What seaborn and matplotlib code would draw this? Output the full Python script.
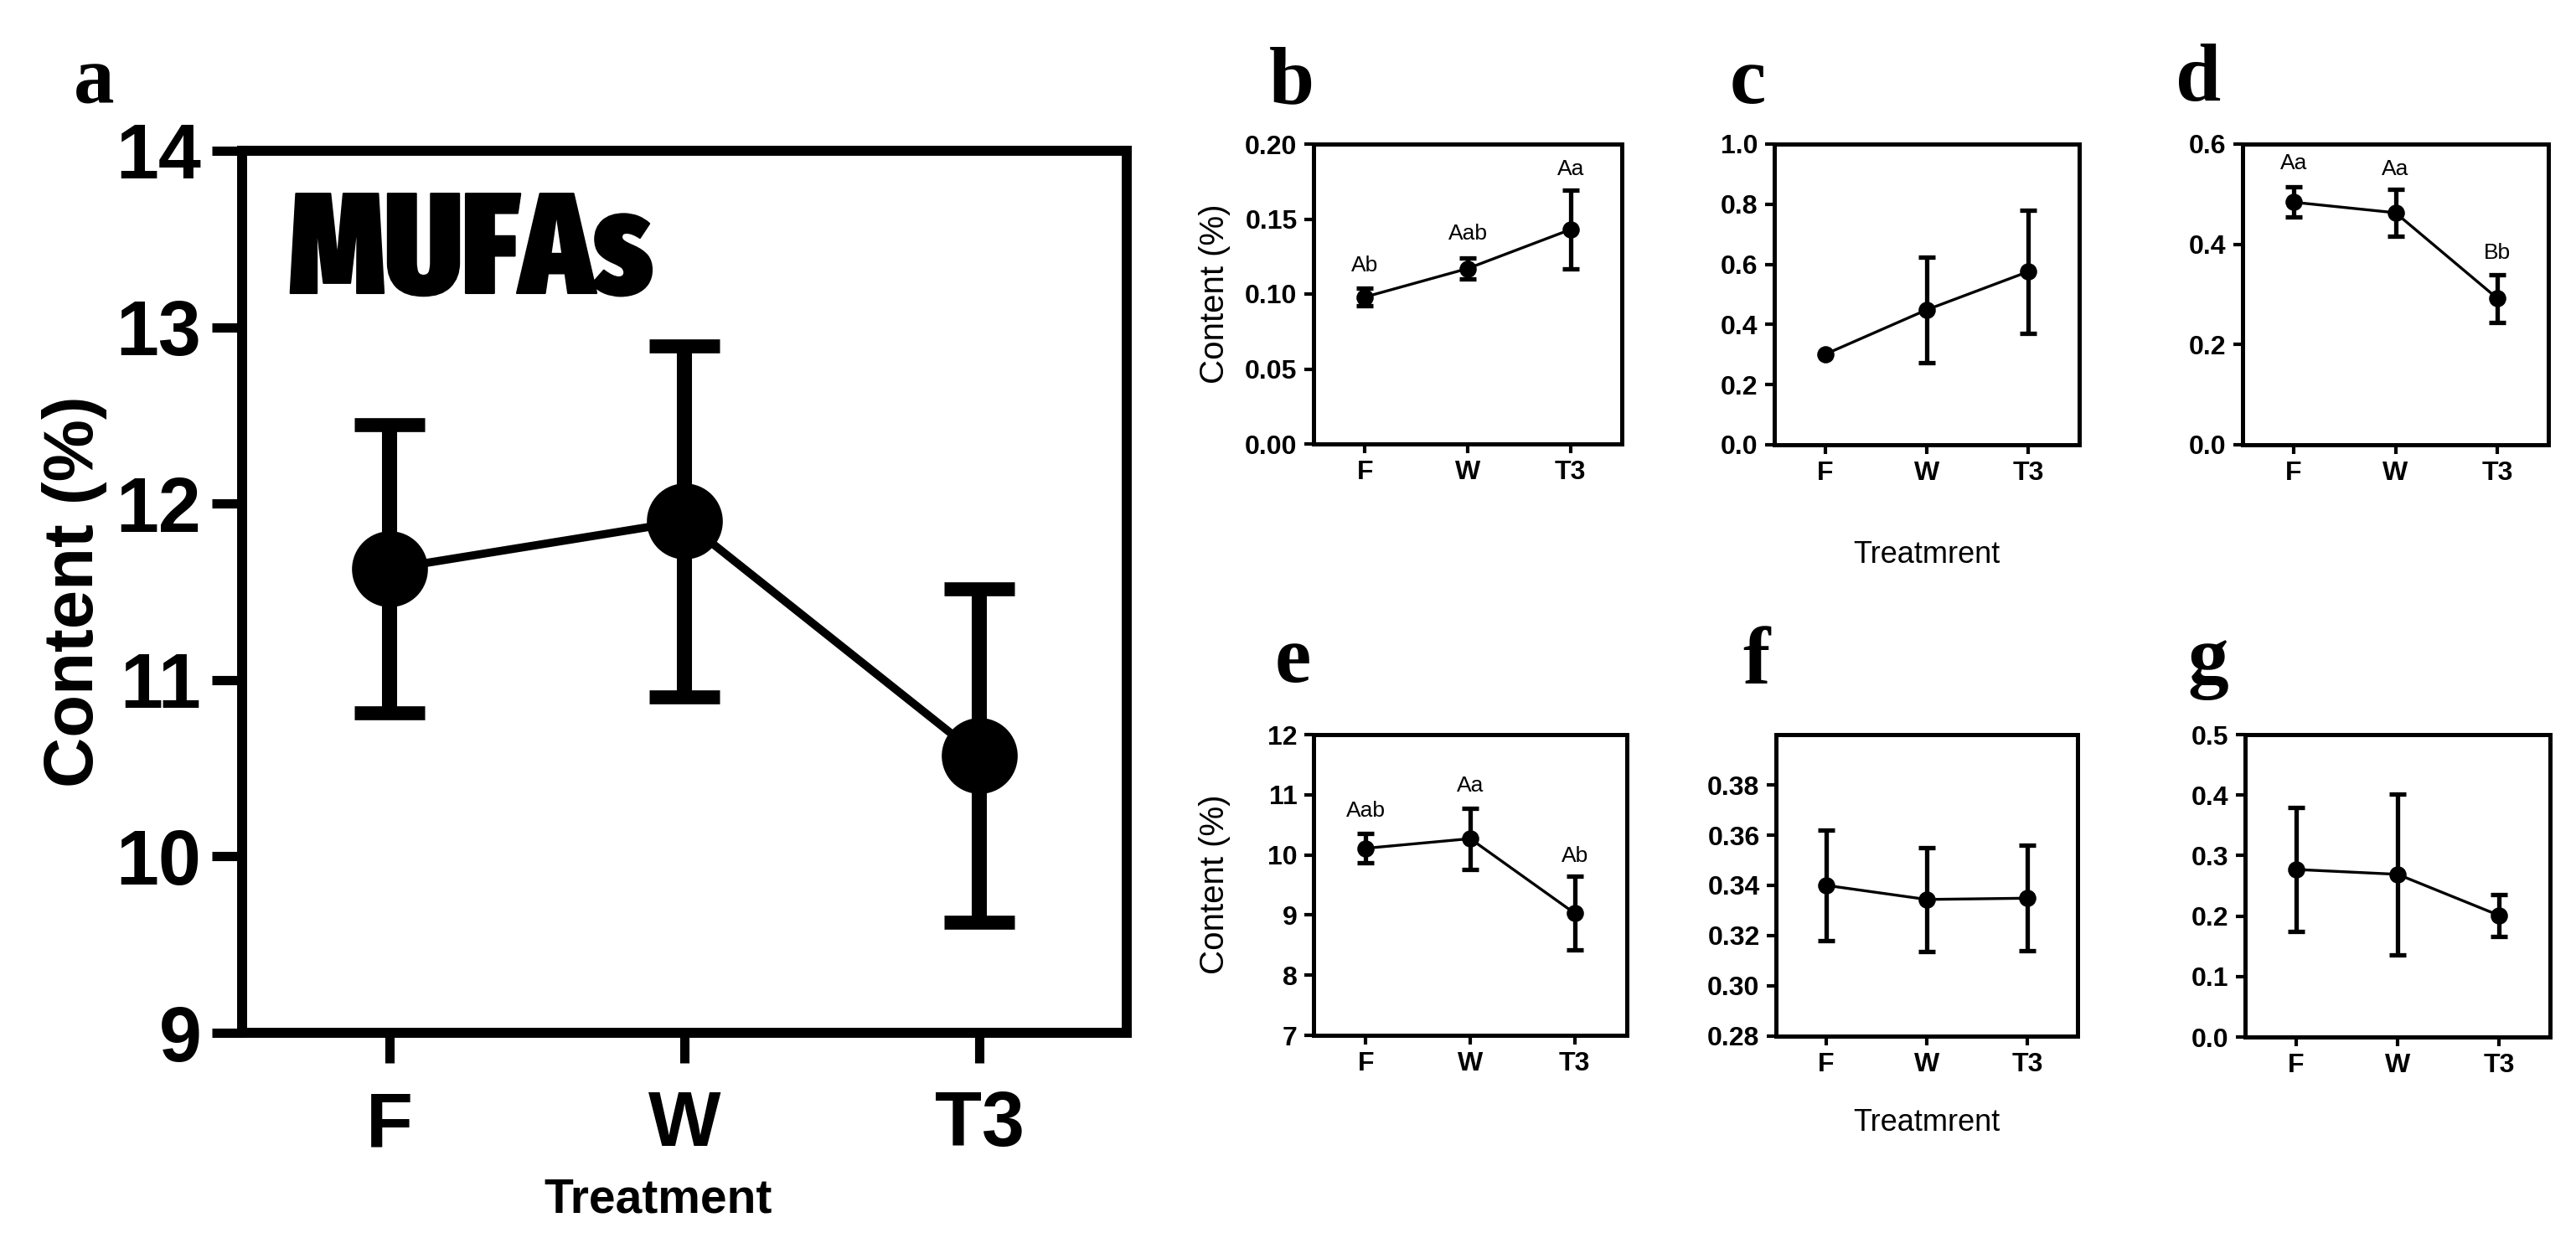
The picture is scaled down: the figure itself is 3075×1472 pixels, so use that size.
import numpy as np
import pandas as pd
import matplotlib
matplotlib.use("Agg")
import matplotlib.pyplot as plt
import matplotlib.patheffects as pe
from matplotlib import font_manager
from matplotlib.font_manager import FontProperties
import seaborn as sns

# %%
# values (mean and SD per treatment)
treat = ["F", "W", "T3"]

a_mean = [11.63, 11.90, 10.57]
a_sd = [0.815, 0.995, 0.945]

b_mean = [0.098, 0.117, 0.143]
b_sd = [0.006, 0.007, 0.026]
b_lab = ["Ab", "Aab", "Aa"]
b_lab_y = [0.119, 0.140, 0.183]

c_mean = [0.301, 0.449, 0.576]
c_sd = [0.0, 0.175, 0.205]

d_mean = [0.484, 0.463, 0.292]
d_sd = [0.030, 0.047, 0.048]
d_lab = ["Aa", "Aa", "Bb"]
d_lab_y = [0.561, 0.550, 0.383]

e_mean = [10.11, 10.27, 9.03]
e_sd = [0.245, 0.51, 0.615]
e_lab = ["Aab", "Aa", "Ab"]
e_lab_y = [10.73, 11.15, 9.98]

f_mean = [0.340, 0.3344, 0.3349]
f_sd = [0.022, 0.0206, 0.021]

g_mean = [0.277, 0.269, 0.201]
g_sd = [0.1025, 0.133, 0.035]

# %%
sns.set_style("ticks")
plt.rcParams["font.family"] = ["Liberation Sans", "DejaVu Sans"]
plt.rcParams.update({"text.color": "k", "axes.edgecolor": "k",
                     "axes.labelcolor": "k", "xtick.color": "k",
                     "ytick.color": "k"})

# a heavy condensed face for the "MUFAs" title, if one is installed
names = {f.name for f in font_manager.fontManager.ttflist}
files = [f.fname for f in font_manager.fontManager.ttflist]
mufa_prop, mufa_size, mufa_stroke = None, 100, 7
for key in ["ExtraCondensedBlack", "SemiCondensedBlack", "CondensedBlack",
            "ExtraCondensedExtraBold", "CondensedExtraBold"]:
    hit = [p for p in files if key in p.replace("-", "").replace("_", "")
           and "Italic" not in p and "Sans" in p and "Mono" not in p]
    if hit:
        mufa_prop = FontProperties(fname=sorted(hit)[0])
        mufa_size, mufa_stroke = 123, 1.5
        break
if mufa_prop is None:
    if "Liberation Sans Narrow" in names:
        mufa_prop = FontProperties(family="Liberation Sans Narrow", weight="bold")
    else:
        mufa_prop = FontProperties(family="DejaVu Sans", stretch="condensed",
                                   weight="bold")

W, H = 3075, 1472
fig = plt.figure(figsize=(W / 100, H / 100), dpi=100)


def box(l, t, r, b):
    return [l / W, 1 - b / H, (r - l) / W, (b - t) / H]


def draw(ax, mean, sd, big=False):
    df = pd.DataFrame({"treat": treat, "mean": mean, "sd": sd})
    x = np.arange(len(df))
    keep = df["sd"] > 0
    if big:
        ax.errorbar(x[keep], df["mean"][keep], yerr=df["sd"][keep], fmt="none",
                    ecolor="k", elinewidth=13, capsize=30, capthick=12, zorder=2)
        sns.pointplot(data=df, x="treat", y="mean", color="k", markers="o",
                      errorbar=None, markersize=60, linewidth=7, ax=ax, zorder=3)
    else:
        ax.errorbar(x[keep], df["mean"][keep], yerr=df["sd"][keep], fmt="none",
                    ecolor="k", elinewidth=3.8, capsize=7.5, capthick=3.8, zorder=2)
        sns.pointplot(data=df, x="treat", y="mean", color="k", markers="o",
                      errorbar=None, markersize=13, linewidth=2.4, ax=ax, zorder=3)
    ax.set_xlim(-0.5, 2.5)
    ax.set_xlabel("")
    ax.set_ylabel("")


def style_small(ax, lim, ticks, fmt):
    ax.set_ylim(*lim)
    ax.set_yticks(ticks)
    ax.set_yticklabels([fmt % t for t in ticks])
    for s in ax.spines.values():
        s.set_visible(True)
        s.set_linewidth(3.6)
        s.set_color("k")
    ax.tick_params(width=3, length=8, labelsize=23, pad=6, colors="k")
    plt.setp(ax.get_xticklabels() + ax.get_yticklabels(), fontweight="bold")


# %%
# panel a
axa = fig.add_axes(box(289, 180, 1345, 1233))
draw(axa, a_mean, a_sd, big=True)
axa.set_ylim(9, 14)
axa.set_yticks(range(9, 15))
for s in axa.spines.values():
    s.set_visible(True)
    s.set_linewidth(8.6)
    s.set_color("k")
axa.tick_params(width=8, length=26, labelsize=66, colors="k")
axa.tick_params(axis="y", pad=9)
axa.tick_params(axis="x", pad=23)
plt.setp(axa.get_xticklabels() + axa.get_yticklabels(), fontweight="bold")

mufa_prop.set_size(mufa_size)
fig.text(345 / W, 1 - 350 / H, "MUFAs", fontproperties=mufa_prop, ha="left",
         va="baseline", color="k",
         path_effects=[pe.withStroke(linewidth=mufa_stroke, foreground="k")])
fig.text(89 / W, 1 - 706 / H, "Content (%)", rotation=90, fontsize=60,
         fontweight="bold", ha="center", va="center")
fig.text(786 / W, 1 - 1432 / H, "Treatment", fontsize=41, fontweight="bold",
         ha="center", va="center")

# %%
# small panels
axb = fig.add_axes(box(1568, 172, 1936, 530))
draw(axb, b_mean, b_sd)
style_small(axb, (0, 0.20), [0, 0.05, 0.10, 0.15, 0.20], "%.2f")
for i, (lab, y) in enumerate(zip(b_lab, b_lab_y)):
    axb.text(i, y, lab, ha="center", va="center", fontsize=19)

axc = fig.add_axes(box(2118, 172, 2482, 531))
draw(axc, c_mean, c_sd)
style_small(axc, (0, 1.0), [0, 0.2, 0.4, 0.6, 0.8, 1.0], "%.1f")

axd = fig.add_axes(box(2677, 172, 3042, 531))
draw(axd, d_mean, d_sd)
style_small(axd, (0, 0.6), [0, 0.2, 0.4, 0.6], "%.1f")
for i, (lab, y) in enumerate(zip(d_lab, d_lab_y)):
    axd.text(i, y, lab, ha="center", va="center", fontsize=19)

axe = fig.add_axes(box(1568, 877, 1942, 1236))
draw(axe, e_mean, e_sd)
style_small(axe, (7, 12), [7, 8, 9, 10, 11, 12], "%d")
for i, (lab, y) in enumerate(zip(e_lab, e_lab_y)):
    axe.text(i, y, lab, ha="center", va="center", fontsize=19)

axf = fig.add_axes(box(2120, 877, 2480, 1237))
draw(axf, f_mean, f_sd)
style_small(axf, (0.28, 0.40), [0.28, 0.30, 0.32, 0.34, 0.36, 0.38], "%.2f")

axg = fig.add_axes(box(2680, 877, 3044, 1238))
draw(axg, g_mean, g_sd)
style_small(axg, (0, 0.5), [0, 0.1, 0.2, 0.3, 0.4, 0.5], "%.1f")

# axis titles on the small panels
for yc in [351, 1056]:
    fig.text(1450 / W, 1 - yc / H, "Content (%)", rotation=90, fontsize=29,
             ha="center", va="center")
for yc in [662, 1340]:
    fig.text(2300 / W, 1 - yc / H, "Treatmrent", fontsize=26,
             ha="center", va="center")

# panel letters
letters = ["a", "b", "c", "d", "e", "f", "g"]
letter_xy = [(88, 123), (1515, 123), (2065, 123), (2597, 120),
             (1522, 814), (2080, 816), (2611, 815)]
for lab, (x, y) in zip(letters, letter_xy):
    fig.text(x / W, 1 - y / H, lab, fontsize=70, fontweight="bold",
             family="Liberation Serif", ha="left", va="baseline")

fig.savefig("out.png", dpi=100, facecolor="white")
